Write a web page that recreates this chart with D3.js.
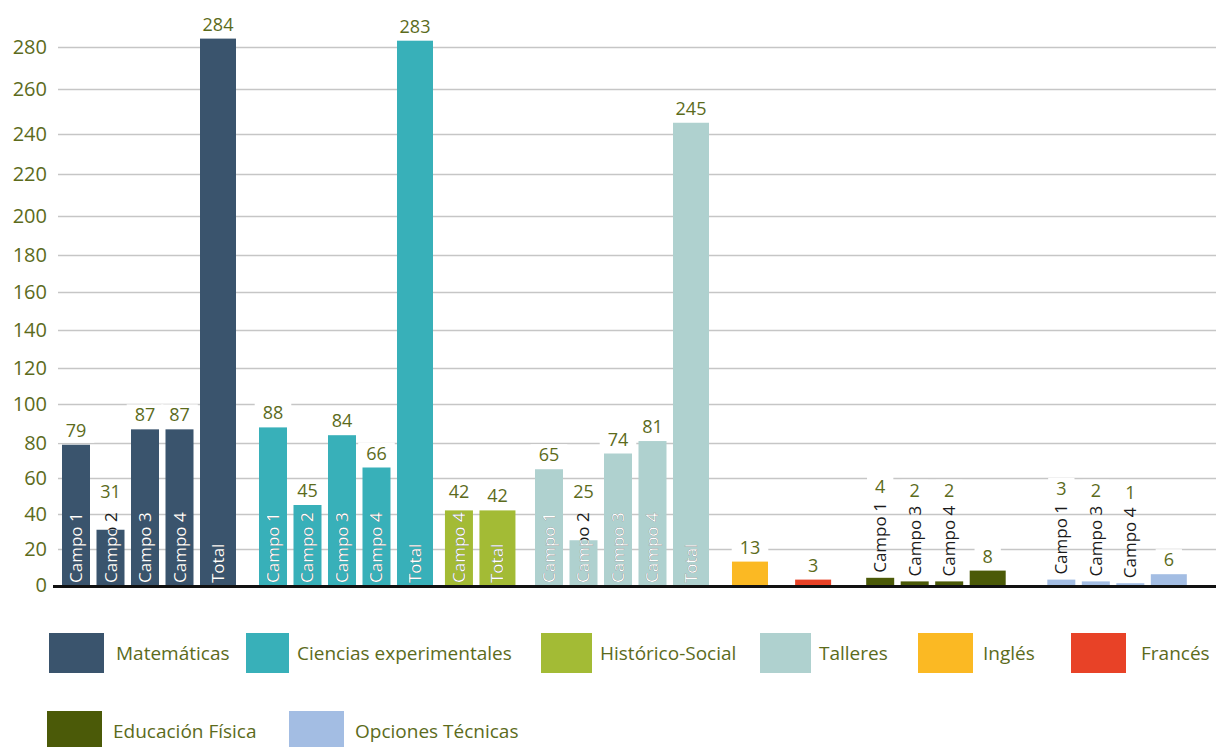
<!DOCTYPE html>
<html>
<head>
<meta charset="utf-8">
<script src="https://cdn.jsdelivr.net/npm/d3@7"></script>
<style>
  body { margin: 0; background: #fff; }
  svg text { font-family: "Open Sans", "Noto Sans", sans-serif; }
</style>
</head>
<body>
<svg id="chart" width="1216" height="747"></svg>
<script>
// data
const groupNames = ["Matemáticas", "Ciencias experimentales", "Histórico-Social", "Talleres",
  "Inglés", "Francés", "Educación Física", "Opciones Técnicas"];
const groupColors = ["#3a546d", "#38b0b9", "#a3bb35", "#afd1cf", "#fbb923", "#e84227", "#4b5a08", "#a3bde3"];

const barGroup  = [0, 0, 0, 0, 0,  1, 1, 1, 1, 1,  2, 2,  3, 3, 3, 3, 3,  4,  5,  6, 6, 6, 6,  7, 7, 7, 7];
const barLabels = ["Campo 1", "Campo 2", "Campo 3", "Campo 4", "Total",
  "Campo 1", "Campo 2", "Campo 3", "Campo 4", "Total",
  "Campo 4", "Total",
  "Campo 1", "Campo 2", "Campo 3", "Campo 4", "Total",
  "", "",
  "Campo 1", "Campo 3", "Campo 4", "",
  "Campo 1", "Campo 3", "Campo 4", ""];
const barValues = [79, 31, 87, 87, 284,  88, 45, 84, 66, 283,  42, 42,  65, 25, 74, 81, 245,
  13, 3,  4, 2, 2, 8,  3, 2, 1, 6];

const yTicks = [0, 20, 40, 60, 80, 100, 120, 140, 160, 180, 200, 220, 240, 260, 280];

// layout
const svg = d3.select("#chart");
const labelColor = "#5c6b1c";
const step = 34.5;
const groupGap = [0.71, 0.39, 0.61, 0.71, 0.83, 1.06, 1.25]; // extra space between groups, in bar steps

// legend placement (row, swatch x, text x)
const legendRow = [0, 0, 0, 0, 0, 0, 1, 1];
const legendSwatchX = [49, 246, 541, 760, 918, 1071, 47, 289];
const legendTextX = [116, 297, 600, 819, 983, 1141, 113, 355];

// slot position of every bar
const slots = [];
let pos = 0;
barValues.forEach((v, i) => {
  if (i > 0 && barGroup[i] !== barGroup[i - 1]) {
    pos += groupGap[barGroup[i] - 1];
  }
  slots.push(pos);
  pos += 1;
});

const x = d3.scaleLinear()
  .domain([0, 1])
  .range([62, 62 + step]);

// the original axis is not quite evenly spaced
const y = d3.scaleLinear()
  .domain(yTicks)
  .range([585, 549, 514, 478, 443, 404, 368, 330, 292, 255, 216, 174, 134, 89, 47]);

function barWidth(i) {
  return barLabels[i].startsWith("Campo") ? 28 : 36;
}

const bars = barValues.map((v, i) => ({
  value: v,
  label: barLabels[i],
  color: groupColors[barGroup[i]],
  x0: x(slots[i]),
  w: barWidth(i),
  top: y(v),
  i: i
}));

// gridlines
svg.append("g")
  .attr("transform", "translate(58,0)")
  .call(d3.axisLeft(y).tickValues(yTicks.slice(1)).tickSize(-(1216 - 58)).tickFormat(""))
  .call(g => g.select(".domain").remove())
  .call(g => g.selectAll(".tick line").attr("stroke", "#c6c6c6").attr("stroke-width", 1.5));

// y labels
svg.append("g")
  .attr("transform", "translate(58,0)")
  .call(d3.axisLeft(y).tickValues(yTicks).tickSize(0).tickPadding(11))
  .call(g => g.select(".domain").remove())
  .call(g => g.selectAll("text")
    .attr("fill", labelColor)
    .attr("font-size", "20px")
    .style("font-family", "'Open Sans', sans-serif"));

const boxLayer = svg.append("g");
const barLayer = svg.append("g");
const textLayer = svg.append("g");

// measure the rotated labels first
const probe = svg.append("text").attr("font-size", "17px");
bars.forEach(d => {
  probe.text(d.label);
  d.textLen = d.label === "" ? 0 : probe.node().getComputedTextLength();
  d.cx = d.x0 + d.w / 2;
  d.outside = d.label !== "" && (y(0) - d.top) < 30;
  if (d.outside) {
    d.labelY = d.top - 5 - d.textLen - 9;
  } else if (d.label !== "") {
    d.labelY = Math.min(d.top, y(0) - 2 - d.textLen - 6) - 8;
  } else {
    d.labelY = d.top - 8;
  }
});
probe.remove();

const valueText = textLayer.selectAll("text.value")
  .data(bars)
  .enter().append("text")
  .attr("class", "value")
  .attr("x", d => d.cx)
  .attr("y", d => d.labelY)
  .attr("text-anchor", "middle")
  .attr("font-size", "18px")
  .attr("fill", labelColor)
  .text(d => d.value);

// white boxes behind value labels
valueText.each(function (d) {
  const w = this.getComputedTextLength();
  boxLayer.append("rect")
    .attr("x", d.cx - w / 2 - 8)
    .attr("y", d.labelY - 17)
    .attr("width", w + 16)
    .attr("height", 23)
    .attr("fill", "#fff");
});

// bars
barLayer.selectAll("rect")
  .data(bars)
  .enter().append("rect")
  .attr("x", d => d.x0)
  .attr("y", d => d.top)
  .attr("width", d => d.w)
  .attr("height", d => y(0) - d.top + 1)
  .attr("fill", d => d.color);

// clip paths so the inside labels are white only on the bar
const defs = svg.append("defs");
bars.forEach(d => {
  defs.append("clipPath")
    .attr("id", "clip" + d.i)
    .append("rect")
    .attr("x", d.x0)
    .attr("y", d.top)
    .attr("width", d.w)
    .attr("height", y(0) - d.top + 1);
});

// rotated bar labels
bars.filter(d => d.label !== "").forEach(d => {
  if (d.outside) {
    textLayer.append("text")
      .attr("transform", `translate(${d.cx + 6},${d.top - 5}) rotate(-90)`)
      .attr("font-size", "17px")
      .attr("fill", "#1b1b1b")
      .text(d.label);
  } else {
    const t = `translate(${d.cx + 6},${y(0) - 2}) rotate(-90)`;
    textLayer.append("text")
      .attr("transform", t)
      .attr("font-size", "17px")
      .attr("fill", "#1b1b1b")
      .text(d.label);
    textLayer.append("g")
      .attr("clip-path", `url(#clip${d.i})`)
      .append("text")
      .attr("transform", t)
      .attr("font-size", "17px")
      .attr("fill", "#fff")
      .text(d.label);
  }
});

// baseline
svg.append("line")
  .attr("x1", 53)
  .attr("x2", 1216)
  .attr("y1", y(0) + 1.5)
  .attr("y2", y(0) + 1.5)
  .attr("stroke", "#111")
  .attr("stroke-width", 3);

// legend
const legendTop = [633, 711];
groupNames.forEach((name, gi) => {
  const top = legendTop[legendRow[gi]];
  svg.append("rect")
    .attr("x", legendSwatchX[gi])
    .attr("y", top)
    .attr("width", Math.min(55, legendTextX[gi] - legendSwatchX[gi] - 8))
    .attr("height", 40)
    .attr("fill", groupColors[gi]);
  svg.append("text")
    .attr("x", legendTextX[gi])
    .attr("y", top + 27)
    .attr("font-size", "19px")
    .attr("fill", labelColor)
    .text(name);
});
</script>
</body>
</html>
